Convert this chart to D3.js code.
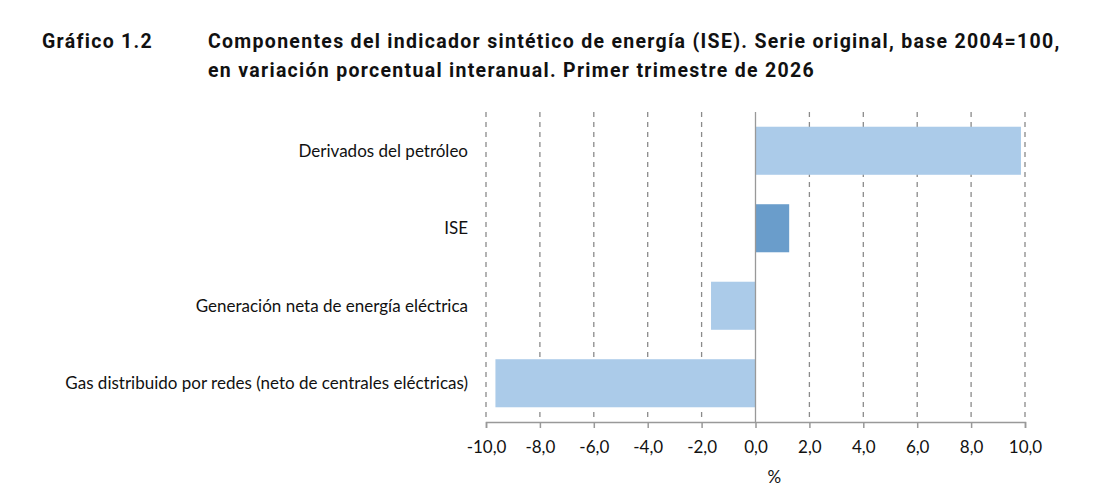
<!DOCTYPE html>
<html>
<head>
<meta charset="utf-8">
<script src="https://cdn.jsdelivr.net/npm/d3@7"></script>
<style>
  body { margin: 0; background: #fff; }
  .title { font-family: Roboto, sans-serif; font-weight: 700; font-size: 19.5px; letter-spacing: 1.3px; fill: #111; }
  .lbl { font-family: Lato, sans-serif; font-size: 17px; fill: #111; }
</style>
</head>
<body>
<div id="chart"></div>
<script>
var categories = ["Derivados del petróleo", "ISE", "Generación neta de energía eléctrica", "Gas distribuido por redes (neto de centrales eléctricas)"];
var values = [9.85, 1.25, -1.65, -9.65];
var barColors = ["#abcbe9", "#6a9dcb", "#abcbe9", "#abcbe9"];
var tickValues = [-10, -8, -6, -4, -2, 0, 2, 4, 6, 8, 10];

function init() {
    var w = 1106, h = 502;
    var margin = { top: 112, right: 81, bottom: 80, left: 486 }; // plot box

    var svg = d3.select("#chart").append("svg")
                .attr("width", w)
                .attr("height", h);

    // title
    svg.append("text").attr("class", "title").attr("x", 42).attr("y", 48).text("Gráfico 1.2");
    svg.append("text").attr("class", "title").attr("x", 208).attr("y", 48)
       .text("Componentes del indicador sintético de energía (ISE). Serie original, base 2004=100,");
    svg.append("text").attr("class", "title").attr("x", 208).attr("y", 77)
       .text("en variación porcentual interanual. Primer trimestre de 2026");

    var xscale = d3.scaleLinear()
                   .domain([-10, 10])
                   .range([margin.left, w - margin.right]);

    var yscale = d3.scaleBand()
                   .domain(categories)
                   .range([margin.top, h - margin.bottom])
                   .paddingInner(0.38)
                   .paddingOuter(0.19);

    var fmt = function(d) { return d3.format(".1f")(d).replace(".", ",").replace("−", "-"); };

    // dashed gridlines
    svg.selectAll(".grid")
       .data(tickValues.filter(function(d) { return d !== 0; }))
       .enter().append("line")
       .attr("x1", function(d) { return xscale(d); })
       .attr("x2", function(d) { return xscale(d); })
       .attr("y1", margin.top)
       .attr("y2", h - margin.bottom)
       .attr("stroke", "#8a8a8a")
       .attr("stroke-width", 1.3)
       .attr("stroke-dasharray", "5,5");

    // bars
    svg.selectAll(".bar")
       .data(values)
       .enter().append("rect")
       .attr("x", function(d) { return xscale(Math.min(0, d)); })
       .attr("y", function(d, i) { return yscale(categories[i]); })
       .attr("width", function(d) { return Math.abs(xscale(d) - xscale(0)); })
       .attr("height", yscale.bandwidth())
       .attr("fill", function(d, i) { return barColors[i]; });

    // zero line
    svg.append("line")
       .attr("x1", xscale(0)).attr("x2", xscale(0))
       .attr("y1", margin.top).attr("y2", h - margin.bottom)
       .attr("stroke", "#999").attr("stroke-width", 1.3);

    // x axis
    var xAxis = svg.append("g")
       .attr("transform", "translate(0," + (h - margin.bottom) + ")")
       .call(d3.axisBottom(xscale).tickValues(tickValues).tickFormat(fmt).tickSizeOuter(0).tickSize(6));
    xAxis.select(".domain").attr("stroke", "#999").attr("stroke-width", 1.5);
    xAxis.selectAll(".tick line").attr("stroke", "#999").attr("stroke-width", 1.5);
    xAxis.selectAll(".tick text")
         .attr("class", "lbl")
         .attr("dy", null)
         .attr("y", 31)
         .attr("fill", "#111");

    // category labels
    svg.selectAll(".cat")
       .data(categories)
       .enter().append("text")
       .attr("class", "lbl")
       .attr("x", 468)
       .attr("y", function(d) { return yscale(d) + yscale.bandwidth() / 2 + 6; })
       .attr("text-anchor", "end")
       .text(function(d) { return d; });

    svg.append("text")
       .attr("class", "lbl")
       .attr("x", xscale(0.7))
       .attr("y", 483)
       .attr("text-anchor", "middle")
       .text("%");
}

window.onload = init;
</script>
</body>
</html>
